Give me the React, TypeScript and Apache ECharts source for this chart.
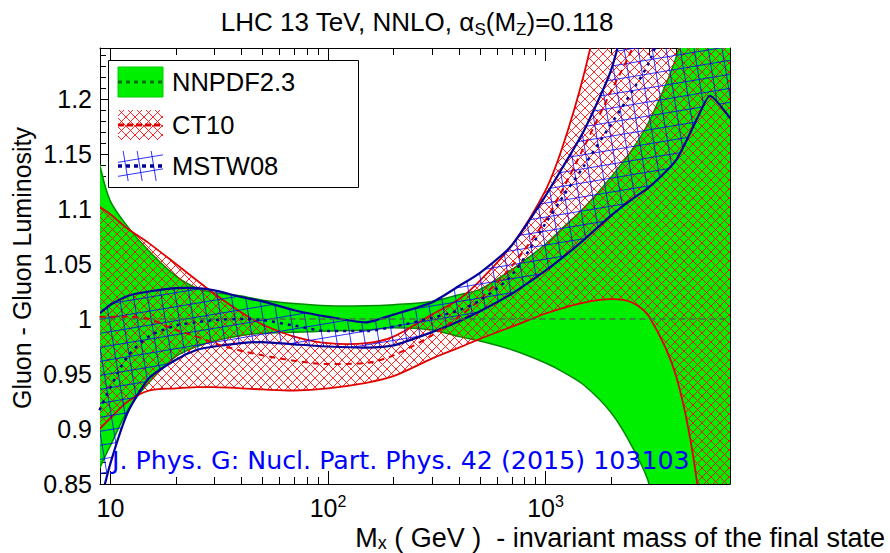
import React, { useEffect, useRef } from 'react';
import * as echarts from 'echarts';

// ---- data ----
const massGeV = [8.9, 10, 12, 15, 20, 25, 30, 40, 50, 70, 100, 150, 200, 300, 400, 500, 700, 1000, 1200, 1500, 2000, 2500, 3000, 4000, 5000, 5700, 7100];

const nnpdfHigh = [1.140, 1.107, 1.084, 1.062, 1.039, 1.028, 1.024, 1.021, 1.017, 1.014, 1.012, 1.012, 1.013, 1.016, 1.022, 1.027, 1.045, 1.068, 1.083, 1.101, 1.129, 1.154, 1.180, 1.239, 1.32, 1.37, 1.48];
const nnpdfLow = [0.865, 0.885, 0.917, 0.942, 0.966, 0.975, 0.980, 0.985, 0.987, 0.988, 0.989, 0.990, 0.992, 0.990, 0.984, 0.980, 0.972, 0.960, 0.952, 0.940, 0.915, 0.884, 0.849, 0.72, 0.6, 0.5, 0.4];
const nnpdfCentralX = [8.9, 7100];
const nnpdfCentralY = [1, 1];

const ct10High = [1.102, 1.095, 1.082, 1.069, 1.050, 1.035, 1.023, 1.006, 0.995, 0.984, 0.978, 0.978, 0.984, 1.004, 1.018, 1.035, 1.067, 1.117, 1.157, 1.222, 1.33, 1.42, 1.5, 1.6, 1.7, 1.75, 1.85];
const ct10Low = [0.900, 0.910, 0.925, 0.935, 0.937, 0.938, 0.938, 0.937, 0.936, 0.935, 0.937, 0.942, 0.948, 0.964, 0.974, 0.982, 0.993, 1.005, 1.010, 1.015, 1.018, 1.015, 1.002, 0.947, 0.848, 0.72, 0.55];
const ct10Central = [1.002, 1.002, 1.002, 1.000, 0.990, 0.984, 0.978, 0.971, 0.967, 0.962, 0.959, 0.960, 0.967, 0.985, 1.002, 1.018, 1.048, 1.090, 1.118, 1.156, 1.207, 1.246, 1.30, 1.38, 1.45, 1.5, 1.6];

const mstwHigh = [1.005, 1.013, 1.021, 1.025, 1.028, 1.028, 1.026, 1.020, 1.016, 1.008, 1.002, 0.997, 1.004, 1.015, 1.030, 1.042, 1.067, 1.112, 1.138, 1.171, 1.226, 1.30, 1.38, 1.5, 1.6, 1.65, 1.75];
const mstwLow = [0.830, 0.869, 0.915, 0.946, 0.963, 0.972, 0.975, 0.978, 0.979, 0.977, 0.975, 0.974, 0.976, 0.988, 0.998, 1.007, 1.023, 1.044, 1.056, 1.072, 1.094, 1.109, 1.120, 1.145, 1.183, 1.203, 1.182];
const mstwCentral = [0.917, 0.938, 0.966, 0.984, 0.994, 0.997, 0.999, 1.000, 0.999, 0.994, 0.989, 0.989, 0.993, 1.001, 1.008, 1.017, 1.040, 1.087, 1.111, 1.139, 1.177, 1.207, 1.234, 1.30, 1.36, 1.40, 1.48];

const xMajorTicks = [10, 100, 1000];
const xMinorTicks = [20, 30, 40, 50, 60, 70, 80, 90, 200, 300, 400, 500, 600, 700, 800, 900, 2000, 3000, 4000, 5000, 6000, 7000];
const yTickLabels = [0.85, 0.9, 0.95, 1, 1.05, 1.1, 1.15, 1.2];
const yMinorTicks = [0.86, 0.87, 0.88, 0.89, 0.91, 0.92, 0.93, 0.94, 0.96, 0.97, 0.98, 0.99, 1.01, 1.02, 1.03, 1.04, 1.06, 1.07, 1.08, 1.09, 1.11, 1.12, 1.13, 1.14, 1.16, 1.17, 1.18, 1.19, 1.21, 1.22, 1.23, 1.24];

const X_MIN = 8.95;
const X_MAX = 7050;
const Y_MIN = 0.85;
const Y_MAX = 1.2464;

const FONT = 'Liberation Sans';

function makeRedHatch() {
  const step = 9;
  const s = 2 * step;
  const c = document.createElement('canvas');
  c.width = s; c.height = s;
  const g = c.getContext('2d')!;
  g.strokeStyle = 'rgba(255,0,0,0.85)';
  g.lineWidth = 1;
  for (let k = -2 * s; k <= 2 * s; k += step) {
    g.beginPath(); g.moveTo(k - 2, -2); g.lineTo(k + s + 2, s + 2); g.stroke();
    g.beginPath(); g.moveTo(k - 2, s + 2); g.lineTo(k + s + 2, -2); g.stroke();
  }
  return { image: c.toDataURL(), repeat: 'repeat', imageWidth: s, imageHeight: s };
}

function makeBlueHatch() {
  const d = 14;
  const s = 6 * d;
  const c = document.createElement('canvas');
  c.width = s; c.height = s;
  const g = c.getContext('2d')!;
  g.strokeStyle = 'rgba(0,0,255,0.8)';
  g.lineWidth = 1;
  for (let k = -3; k <= 10; k++) {
    const cc = k * d;
    g.beginPath(); g.moveTo(-12, cc + 2); g.lineTo(s + 12, cc - (s + 12) / 6); g.stroke();
  }
  for (let k = -9; k <= 8; k++) {
    const cc = k * d;
    g.beginPath(); g.moveTo(cc - 2, -12); g.lineTo(cc + (s + 12) / 6, s + 12); g.stroke();
  }
  return { image: c.toDataURL(), repeat: 'repeat', imageWidth: s, imageHeight: s };
}

const pairs = (ys: number[]) => massGeV.map((m, i) => [m, ys[i]]);

function bandSeries(name: string, hi: number[], lo: number[], fill: any, stroke: string, width: number, smooth: number) {
  return {
    type: 'custom', name, xAxisIndex: 0, yAxisIndex: 0, clip: true, silent: true,
    data: [[massGeV[0], hi[0]]],
    encode: { x: 0, y: 1 },
    renderItem: (_params: any, api: any) => {
      const top = massGeV.map((m, i) => api.coord([m, hi[i]]));
      const bot = massGeV.map((m, i) => api.coord([m, lo[i]]));
      const poly = top.concat(bot.slice().reverse());
      return {
        type: 'group',
        children: [
          { type: 'polygon', shape: { points: poly, smooth }, style: { fill, stroke: 'none' } },
          { type: 'polyline', shape: { points: top, smooth }, style: { fill: 'none', stroke, lineWidth: width } },
          { type: 'polyline', shape: { points: bot, smooth }, style: { fill: 'none', stroke, lineWidth: width } },
        ],
      };
    },
  };
}

export default function App() {
  const ref = useRef<HTMLDivElement>(null);

  useEffect(() => {
    document.body.style.margin = '0';
    const chart = echarts.init(ref.current!, null, { renderer: 'svg' });
    const red = makeRedHatch();
    const blue = makeBlueHatch();

    const logAxis = (extra: any) => ({
      type: 'log', logBase: 10, min: X_MIN, max: X_MAX, gridIndex: 0,
      splitLine: { show: false }, minorTick: { show: false }, minorSplitLine: { show: false },
      axisLine: { show: false, onZero: false },
      axisLabel: { show: false },
      ...extra,
    });
    const valAxis = (extra: any) => ({
      type: 'value', min: Y_MIN, max: Y_MAX, gridIndex: 0,
      splitLine: { show: false },
      axisLine: { show: false, onZero: false },
      axisLabel: { show: false },
      ...extra,
    });

    const base = {
      type: 'line', xAxisIndex: 0, yAxisIndex: 0, symbol: 'none', showSymbol: false,
      clip: true, silent: true, smooth: 0.3,
    };

    const option: any = {
      animation: false,
      backgroundColor: '#ffffff',
      grid: { left: 100, right: 160, top: 48, bottom: 69, containLabel: false, outerBoundsMode: 'none' },
      xAxis: [
        logAxis({
          position: 'bottom',
          axisLine: { show: true, onZero: false, lineStyle: { color: '#000', width: 1 } },
          axisTick: { show: true, inside: true, length: 13, customValues: xMajorTicks, lineStyle: { color: '#000', width: 1 } },
          axisLabel: {
            show: true, customValues: xMajorTicks, margin: 9, color: '#000',
            formatter: (v: number) => {
              const e = Math.round(Math.log10(v));
              return e === 1 ? '{b|10}' : '{b|10}{s|' + e + '}';
            },
            rich: {
              b: { fontSize: 25, fontFamily: FONT, color: '#000', lineHeight: 30 },
              s: { fontSize: 16, fontFamily: FONT, color: '#000', lineHeight: 16, verticalAlign: 'top' },
            },
          },
        }),
        logAxis({
          position: 'bottom',
          axisTick: { show: true, inside: true, length: 7, customValues: xMinorTicks, lineStyle: { color: '#000', width: 1 } },
        }),
        logAxis({
          position: 'top',
          axisLine: { show: true, onZero: false, lineStyle: { color: '#000', width: 1 } },
          axisTick: { show: true, inside: true, length: 13, customValues: xMajorTicks, lineStyle: { color: '#000', width: 1 } },
        }),
        logAxis({
          position: 'top',
          axisTick: { show: true, inside: true, length: 7, customValues: xMinorTicks, lineStyle: { color: '#000', width: 1 } },
        }),
      ],
      yAxis: [
        valAxis({
          position: 'left',
          axisLine: { show: true, onZero: false, lineStyle: { color: '#000', width: 1 } },
          axisTick: { show: true, inside: true, length: 12, customValues: yTickLabels, lineStyle: { color: '#000', width: 1 } },
          axisLabel: {
            show: true, customValues: yTickLabels, margin: 8, color: '#000',
            fontSize: 25, fontFamily: FONT,
            formatter: (v: number) => String(v),
          },
        }),
        valAxis({
          position: 'left',
          axisTick: { show: true, inside: true, length: 6, customValues: yMinorTicks, lineStyle: { color: '#000', width: 1 } },
        }),
        valAxis({
          position: 'right',
          axisLine: { show: true, onZero: false, lineStyle: { color: '#000', width: 1 } },
          axisTick: { show: false },
        }),
      ],
      series: [
        bandSeries('NNPDF2.3', nnpdfHigh, nnpdfLow, '#00ee00', '#008a00', 1.5, 0.3),
        bandSeries('CT10', ct10High, ct10Low, red, '#e00000', 1.8, 0.3),
        bandSeries('MSTW08', mstwHigh, mstwLow, blue, '#000099', 2.2, 0.2),
        { ...base, name: 'NNPDF central', smooth: false, data: nnpdfCentralX.map((m, i) => [m, nnpdfCentralY[i]]), lineStyle: { color: '#4a6a4a', width: 1.5, type: [6, 4] } },
        { ...base, name: 'CT10 central', data: pairs(ct10Central), lineStyle: { color: '#dd0000', width: 2, type: [6, 5] } },
        { ...base, name: 'MSTW central', data: pairs(mstwCentral), lineStyle: { color: '#000099', width: 2.5, type: [3, 5] } },
      ],
      graphic: [
        {
          type: 'text', x: 417, y: 22, z: 100,
          style: {
            text: '{t|LHC 13 TeV, NNLO, α}{s|S}{t|(M}{s|Z}{t|)=0.118}',
            align: 'center', verticalAlign: 'middle', fill: '#000', fontSize: 26, fontFamily: FONT,
            rich: {
              t: { fontSize: 26, fontFamily: FONT, fill: '#000', lineHeight: 32 },
              s: { fontSize: 17, fontFamily: FONT, fill: '#000', lineHeight: 17, verticalAlign: 'bottom' },
            },
          },
        },
        {
          type: 'text', x: 22, y: 268, rotation: Math.PI / 2, z: 100,
          style: {
            text: 'Gluon - Gluon Luminosity', align: 'center', verticalAlign: 'middle',
            fill: '#000', fontSize: 25, fontFamily: FONT,
          },
        },
        {
          type: 'text', x: 885, y: 538, z: 100,
          style: {
            text: '{t|M}{s|x}{t| ( GeV )  - invariant mass of the final state}',
            align: 'right', verticalAlign: 'middle', fill: '#000', fontSize: 27, fontFamily: FONT,
            rich: {
              t: { fontSize: 27, fontFamily: FONT, fill: '#000', lineHeight: 28 },
              s: { fontSize: 18, fontFamily: FONT, fill: '#000', lineHeight: 15, verticalAlign: 'bottom' },
            },
          },
        },
        {
          type: 'text', x: 112, y: 460, z: 100,
          style: {
            text: 'J. Phys. G: Nucl. Part. Phys. 42 (2015) 103103', align: 'left', verticalAlign: 'middle',
            fill: '#0000ff', fontSize: 25.3, fontFamily: 'DejaVu Sans',
          },
        },
        // legend
        { type: 'rect', z: 100, shape: { x: 108.5, y: 60.5, width: 250, height: 127 }, style: { fill: '#ffffff', stroke: '#000', lineWidth: 1 } },
        { type: 'rect', z: 101, shape: { x: 118, y: 67, width: 45, height: 30 }, style: { fill: '#00ee00', stroke: '#00cc00', lineWidth: 1 } },
        { type: 'line', z: 102, shape: { x1: 118, y1: 82, x2: 163, y2: 82 }, style: { stroke: '#007000', lineWidth: 3, lineDash: [4, 4] } },
        { type: 'rect', z: 101, shape: { x: 118, y: 110, width: 45, height: 30 }, style: { fill: red } },
        { type: 'line', z: 102, shape: { x1: 118, y1: 125, x2: 163, y2: 125 }, style: { stroke: '#dd0000', lineWidth: 3, lineDash: [6, 3] } },
        { type: 'rect', z: 101, shape: { x: 118, y: 151, width: 45, height: 30 }, style: { fill: blue } },
        { type: 'line', z: 102, shape: { x1: 118, y1: 166, x2: 163, y2: 166 }, style: { stroke: '#000099', lineWidth: 3.5, lineDash: [4, 4] } },
        { type: 'text', x: 172, y: 82, z: 102, style: { text: 'NNPDF2.3', align: 'left', verticalAlign: 'middle', fill: '#000', fontSize: 25.5, fontFamily: FONT } },
        { type: 'text', x: 172, y: 125, z: 102, style: { text: 'CT10', align: 'left', verticalAlign: 'middle', fill: '#000', fontSize: 25.5, fontFamily: FONT } },
        { type: 'text', x: 172, y: 166, z: 102, style: { text: 'MSTW08', align: 'left', verticalAlign: 'middle', fill: '#000', fontSize: 25.5, fontFamily: FONT } },
      ],
    };

    chart.setOption(option);
    return () => chart.dispose();
  }, []);

  return <div ref={ref} style={{ width: 890, height: 553 }} />;
}
